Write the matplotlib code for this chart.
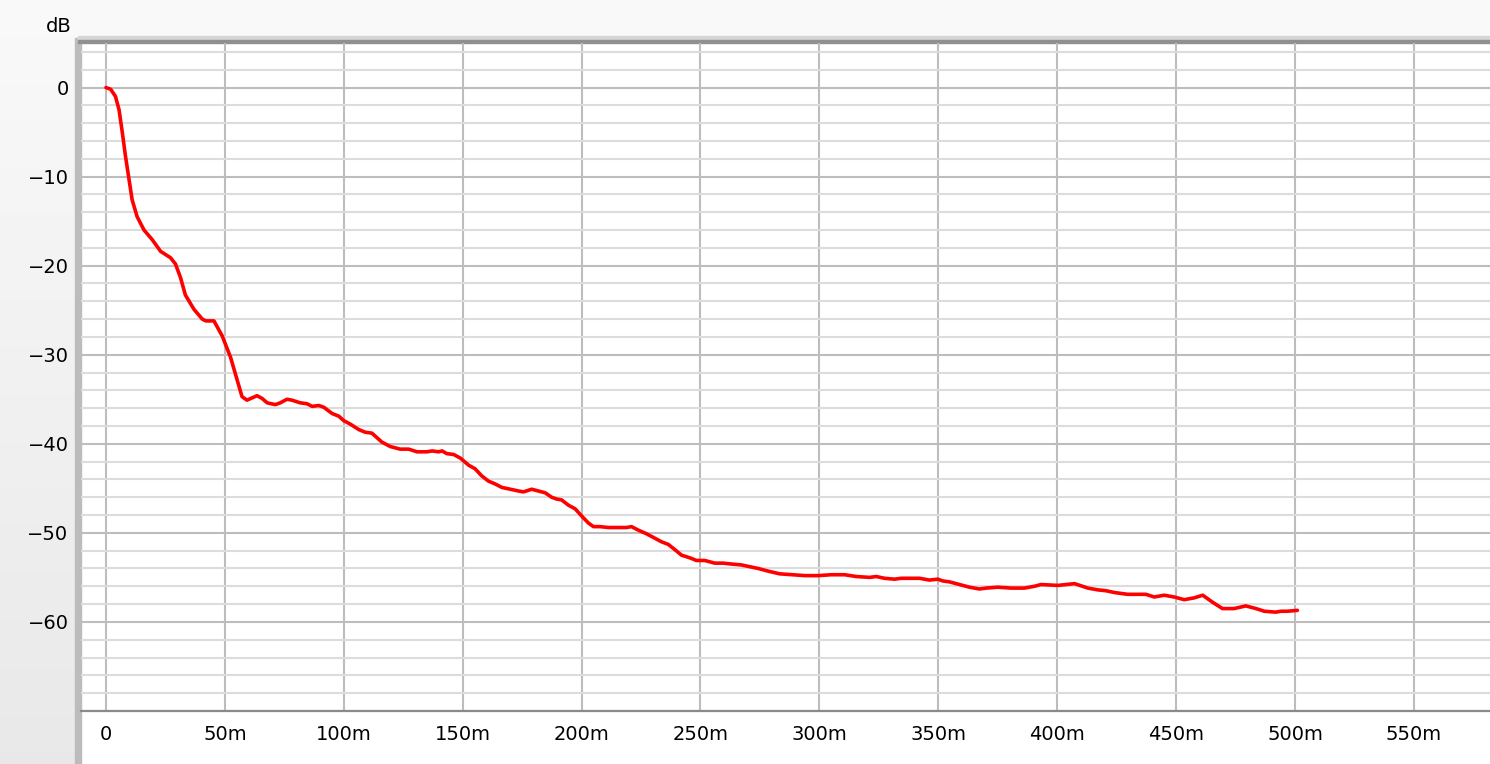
import matplotlib
matplotlib.use("Agg")
import matplotlib.pyplot as plt
from matplotlib.patches import Rectangle
from matplotlib.ticker import FuncFormatter, MultipleLocator
import numpy as np

# ---------- decay curve (ms, dB) ----------
time_ms = [
    0, 2, 4, 5.5, 6.9, 8.2, 9.7, 11, 13.1, 16, 19.5, 23, 27.1, 29.2, 31.3,
    33.4, 37, 40.5, 42, 45.4, 48.9, 52.4, 55.1, 57.2, 59.3, 63.5, 65.6, 67.8,
    71.2, 73.3, 76.1, 78.2, 81.7, 84.5, 86.7, 89.5, 91.6, 95.1, 97.9, 100,
    102.8, 106.3, 109, 111.8, 116, 119.5, 123.7, 127.3, 130.8, 135, 137.1,
    139.9, 141.3, 143.3, 146.2, 149, 152.5, 155.2, 158, 160.9, 163.6, 166.5,
    170, 173.5, 175.6, 179, 181.9, 184.7, 187.4, 189.5, 191.6, 194.5, 197.3,
    200, 202.9, 205, 207.7, 211.3, 215.5, 218.9, 221, 223.9, 227.3, 230.8,
    233.6, 236.5, 239.3, 242, 245.5, 248.3, 251.8, 256, 259.6, 263, 267.2,
    270.8, 274.3, 278.5, 283.3, 288.3, 293.9, 299.5, 305, 310.6, 315.5, 321.1,
    323.9, 327.4, 331.6, 334.4, 338.6, 342.1, 346.3, 349.8, 351.9, 354.7,
    358.9, 363.1, 367.3, 370.1, 375, 380.6, 386.2, 390.4, 393.2, 400.3, 407.3,
    412.9, 417.1, 420.6, 424.1, 429.6, 433.8, 437.3, 440.8, 445, 449.2, 453.4,
    457.6, 461.2, 465.4, 469.5, 474.4, 479.3, 483.6, 487.1, 491.9, 494.1,
    496.8, 501,
]
level_db = [
    0, -0.2, -1.0, -2.5, -5.1, -7.7, -10.3, -12.6, -14.5, -16, -17.1, -18.4,
    -19.1, -19.8, -21.3, -23.3, -24.9, -26.0, -26.2, -26.2, -27.9, -30.3,
    -32.8, -34.7, -35.1, -34.6, -34.9, -35.4, -35.6, -35.4, -35.0, -35.1,
    -35.4, -35.5, -35.8, -35.7, -35.9, -36.6, -36.9, -37.4, -37.8, -38.4,
    -38.7, -38.8, -39.8, -40.3, -40.6, -40.6, -40.9, -40.9, -40.8, -40.9,
    -40.8, -41.1, -41.2, -41.6, -42.4, -42.8, -43.6, -44.2, -44.5, -44.9,
    -45.1, -45.3, -45.4, -45.1, -45.3, -45.5, -46.0, -46.2, -46.3, -46.9,
    -47.3, -48.1, -48.9, -49.3, -49.3, -49.4, -49.4, -49.4, -49.3, -49.7,
    -50.1, -50.6, -51.0, -51.3, -51.9, -52.5, -52.8, -53.1, -53.1, -53.4,
    -53.4, -53.5, -53.6, -53.8, -54.0, -54.3, -54.6, -54.7, -54.8, -54.8,
    -54.7, -54.7, -54.9, -55.0, -54.9, -55.1, -55.2, -55.1, -55.1, -55.1,
    -55.3, -55.2, -55.4, -55.5, -55.8, -56.1, -56.3, -56.2, -56.1, -56.2,
    -56.2, -56.0, -55.8, -55.9, -55.7, -56.2, -56.4, -56.5, -56.7, -56.9,
    -56.9, -56.9, -57.2, -57.0, -57.2, -57.5, -57.3, -57.0, -57.8, -58.5,
    -58.5, -58.2, -58.5, -58.8, -58.9, -58.8, -58.8, -58.7,
]

x_ticks = [0, 50, 100, 150, 200, 250, 300, 350, 400, 450, 500, 550]
y_ticks = [0, -10, -20, -30, -40, -50, -60]

W, H = 1490, 764
fig = plt.figure(figsize=(W / 100, H / 100), dpi=100, facecolor="#f9f9f9")

# window chrome drawn in pixel coords on a background axes (y down)
bg = fig.add_axes([0, 0, 1, 1], zorder=-10)
bg.set_xlim(0, W)
bg.set_ylim(H, 0)
bg.axis("off")
shade = np.linspace(0.975, 0.91, 64).reshape(-1, 1)
bg.imshow(shade, cmap="gray", vmin=0, vmax=1, extent=(0, 76, H, 0), aspect="auto")
bg.set_xlim(0, W)
bg.set_ylim(H, 0)
bg.add_patch(Rectangle((81, 43), W, H, color="white"))
bg.add_patch(Rectangle((75, 38), 6, H, color="#bcbcbc"))
bg.add_patch(Rectangle((78, 36), W, 4, color="#d6d6d6"))
bg.add_patch(Rectangle((78, 39.5), W, 3.5, color="#909090"))

ax = fig.add_axes([81 / W, 53 / H, (W - 81) / W, (711 - 43) / H], zorder=1)
ax.patch.set_alpha(0)
ax.set_xlim(-10.5, 582)
ax.set_ylim(-70, 5)

ax.set_xticks(x_ticks)
ax.set_yticks(y_ticks)
ax.yaxis.set_minor_locator(MultipleLocator(2))
ax.xaxis.set_major_formatter(FuncFormatter(lambda v, p: "0" if v == 0 else f"{int(v)}m"))
ax.yaxis.set_major_formatter(FuncFormatter(lambda v, p: "0" if v == 0 else f"\u2212{int(-v)}"))

ax.set_axisbelow(True)
ax.grid(which="major", axis="both", color="#bdbdbd", linewidth=1.5)
ax.grid(which="minor", axis="y", color="#dcdcdc", linewidth=1.5)

ax.tick_params(which="both", length=0)
ax.tick_params(axis="y", pad=9, labelsize=14)
ax.tick_params(axis="x", pad=10, labelsize=14)

for side in ("top", "right", "left"):
    ax.spines[side].set_visible(False)
ax.spines["bottom"].set_color("#8a8a8a")
ax.spines["bottom"].set_linewidth(1.6)

ax.plot(time_ms, level_db, color="#ff0000", linewidth=2.6,
        solid_joinstyle="round", solid_capstyle="round", zorder=3)

fig.text(72 / W, 1 - 26 / H, "dB", ha="right", va="center", fontsize=14)

fig.savefig("out.png", dpi=100, facecolor=fig.get_facecolor())
